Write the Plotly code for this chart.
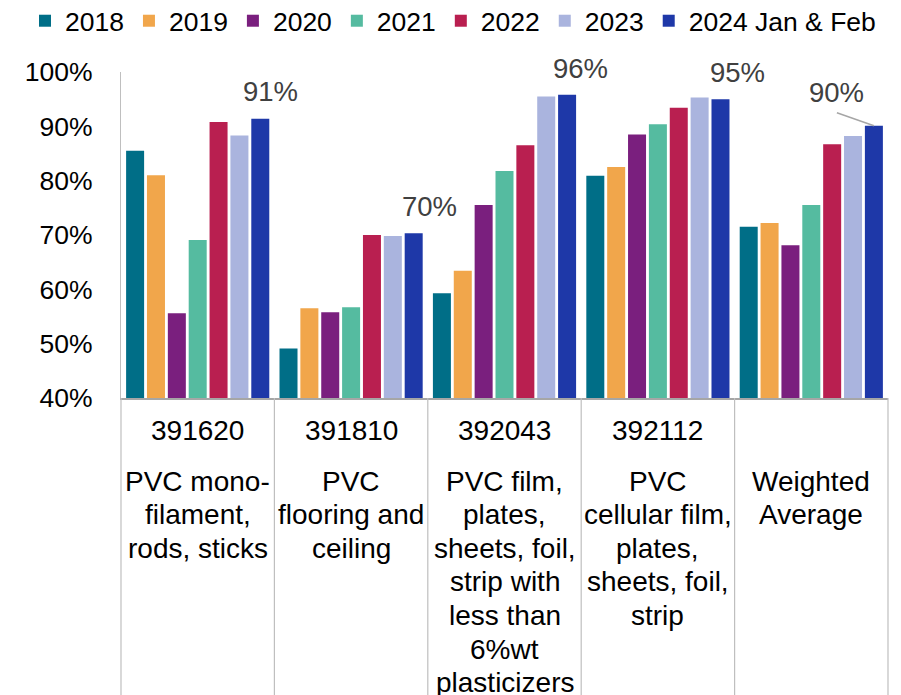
import plotly.graph_objects as go

# ---- data -------------------------------------------------------------
categories = ["391620", "391810", "392043", "392112", "Weighted Average"]
hs_codes = ["391620", "391810", "392043", "392112", ""]
descriptions = [
    ["PVC mono-", "filament,", "rods, sticks"],
    ["PVC", "flooring and", "ceiling"],
    ["PVC film,", "plates,", "sheets, foil,", "strip with", "less than",
     "6%wt", "plasticizers"],
    ["PVC", "cellular film,", "plates,", "sheets, foil,", "strip"],
    ["Weighted", "Average"],
]
years = ["2018", "2019", "2020", "2021", "2022", "2023", "2024 Jan & Feb"]

share_2018 = [85.5, 49.1, 59.3, 80.9, 71.5]
share_2019 = [81.0, 56.5, 63.4, 82.5, 72.2]
share_2020 = [55.6, 55.8, 75.5, 88.5, 68.1]
share_2021 = [69.1, 56.7, 81.8, 90.4, 75.5]
share_2022 = [90.8, 70.0, 86.5, 93.4, 86.7]
share_2023 = [88.3, 69.8, 95.5, 95.3, 88.2]
share_2024 = [91.4, 70.3, 95.8, 95.0, 90.1]

series = [share_2018, share_2019, share_2020, share_2021,
          share_2022, share_2023, share_2024]

# ---- styling ----------------------------------------------------------
colors = ["#006E87", "#F1A64B", "#7A1F7E", "#55BBA0",
          "#B91F50", "#AAB4DE", "#1E38A8"]
FONT = "Liberation Sans, Arial, sans-serif"
FS_AXIS = 26.5
FS_CAT = 28
FS_LABEL = 27.5
GRID = "#BFBFBF"
BARGAP = 0.048
BARGROUPGAP = 0.137

W, H = 901, 695
M_L, M_R, M_T, M_B = 121, 13, 72, 297
plot_w = W - M_L - M_R
plot_h = H - M_T - M_B

fig = go.Figure()
for name, vals, col in zip(years, series, colors):
    fig.add_trace(go.Bar(name=name, x=categories, y=vals,
                         marker=dict(color=col, line=dict(width=0))))

# value labels on the latest series, placed beside each bar top
slot = (1 - BARGAP) / len(years)
last_offset = (len(years) - 1) / 2 * slot
label_shift = [(10.5, 27), (15.4, 27), (13, 26), (17.3, 26.5), (-37, 33)]
annotations = []
shapes = []
for i, (v, (dx, dy)) in enumerate(zip(share_2024, label_shift)):
    annotations.append(dict(
        x=i + last_offset, y=v, xref="x", yref="y",
        text=f"{round(v)}%", showarrow=False,
        xanchor="center", yanchor="middle",
        xshift=dx, yshift=dy,
        font=dict(family=FONT, size=FS_LABEL, color="#404040")))

# leader line for the weighted-average label
shapes.append(dict(
    type="line", xref="x", yref="y",
    xsizemode="pixel", ysizemode="pixel",
    xanchor=4 + last_offset, yanchor=share_2024[4],
    x0=-37, y0=13, x1=0, y1=0,
    line=dict(color="#A6A6A6", width=1.5)))

# category table under the axis
n = len(categories)
LINE_STEP = 33.6
for i in range(n + 1):
    shapes.append(dict(type="line", xref="paper", yref="paper",
                       x0=i / n, x1=i / n, y0=0, y1=-M_B / plot_h,
                       line=dict(color=GRID, width=1.2)))
for i, (code, lines) in enumerate(zip(hs_codes, descriptions)):
    cx = (i + 0.5) / n
    if code:
        annotations.append(dict(
            x=cx, y=0, xref="paper", yref="paper",
            text=code, showarrow=False, xanchor="center", yanchor="middle",
            yshift=-32, font=dict(family=FONT, size=FS_CAT, color="#000000")))
    for k, line in enumerate(lines):
        annotations.append(dict(
            x=cx, y=0, xref="paper", yref="paper",
            text=line, showarrow=False, xanchor="center", yanchor="middle",
            yshift=-(83 + LINE_STEP * k),
            font=dict(family=FONT, size=FS_CAT, color="#000000")))

fig.update_layout(
    width=W, height=H,
    margin=dict(l=M_L, r=M_R, t=M_T, b=M_B, autoexpand=False),
    paper_bgcolor="white", plot_bgcolor="white",
    barmode="group", bargap=BARGAP, bargroupgap=BARGROUPGAP,
    font=dict(family=FONT, size=FS_AXIS, color="#000000"),
    showlegend=True,
    legend=dict(orientation="h", xref="paper", yref="paper",
                x=(25 - M_L) / plot_w, y=1 + (M_T + 3) / plot_h,
                xanchor="left", yanchor="top",
                font=dict(family=FONT, size=FS_AXIS, color="#000000"),
                itemclick=False, tracegroupgap=0),
    annotations=annotations,
    shapes=shapes,
)
fig.update_xaxes(showticklabels=False, showline=True, linecolor="#A6A6A6",
                 linewidth=1.5, ticks="", showgrid=False, zeroline=False)
fig.update_yaxes(range=[40, 100], dtick=10, ticksuffix="%",
                 showline=True, linecolor=GRID, linewidth=1.2,
                 showgrid=False, zeroline=False, ticks="",
                 ticklabelstandoff=22,
                 tickfont=dict(family=FONT, size=FS_AXIS, color="#000000"))

fig.write_html("out.html")
